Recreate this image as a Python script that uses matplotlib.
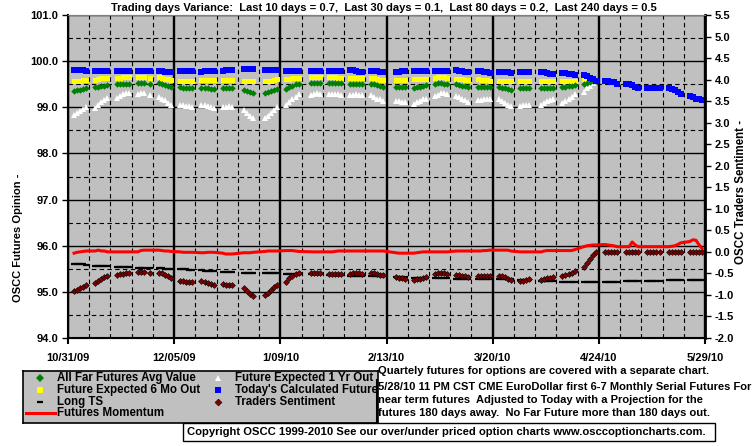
import pandas as pd
import matplotlib
matplotlib.use("Agg")
import matplotlib.pyplot as plt
import matplotlib.dates as mdates
from matplotlib.ticker import MultipleLocator, FixedLocator
from matplotlib.patches import Rectangle
from matplotlib.lines import Line2D

plt.rcParams['font.family'] = ['Liberation Sans', 'DejaVu Sans']
plt.rcParams['font.weight'] = 'bold'

W, H = 755, 446

# ====== Data ======
HOLIDAYS = ['2009-11-26', '2009-12-25', '2010-01-01', '2010-01-18', '2010-02-15', '2010-04-02']
trade_days = pd.bdate_range('2009-11-02', '2010-05-28', freq='C', holidays=HOLIDAYS)

tick_dates = ['2009-10-31', '2009-12-05', '2010-01-09', '2010-02-13', '2010-03-20', '2010-04-24', '2010-05-29']
tick_labels = ['10/31/09', '12/05/09', '1/09/10', '2/13/10', '3/20/10', '4/24/10', '5/29/10']

# weekly lists of trading-day values (left axis)
today_future = [
    [99.81, 99.81, 99.81, 99.81, 99.79], [99.79, 99.79, 99.79, 99.79, 99.79],
    [99.79, 99.79, 99.79, 99.79, 99.79], [99.79, 99.79, 99.79, 99.78],
    [99.78, 99.78, 99.77, 99.77, 99.77], [99.78, 99.78, 99.79, 99.78, 99.78],
    [99.77, 99.78, 99.79, 99.79, 99.79], [99.79, 99.80, 99.81, 99.81],
    [99.82, 99.82, 99.83, 99.83], [99.81, 99.81, 99.81, 99.81, 99.81],
    [99.79, 99.79, 99.79, 99.79, 99.79], [99.79, 99.79, 99.79, 99.79],
    [99.79, 99.79, 99.79, 99.79, 99.78], [99.80, 99.80, 99.79, 99.77, 99.77],
    [99.78, 99.78, 99.78, 99.77, 99.76], [99.76, 99.77, 99.78, 99.78],
    [99.78, 99.78, 99.78, 99.78, 99.78], [99.79, 99.79, 99.79, 99.79, 99.79],
    [99.80, 99.79, 99.78, 99.77, 99.77], [99.78, 99.78, 99.77, 99.76, 99.74],
    [99.76, 99.76, 99.76, 99.76, 99.74], [99.76, 99.76, 99.76, 99.76],
    [99.77, 99.77, 99.74, 99.73, 99.73], [99.74, 99.74, 99.73, 99.73, 99.70],
    [99.70, 99.67, 99.64, 99.61, 99.58], [99.58, 99.57, 99.55, 99.54, 99.51],
    [99.51, 99.50, 99.48, 99.45, 99.42], [99.41, 99.41, 99.41, 99.41, 99.41],
    [99.41, 99.40, 99.37, 99.34, 99.28], [99.25, 99.22, 99.19, 99.17, 99.15],
]
six_mo = [
    [99.58, 99.58, 99.58, 99.59, 99.59], [99.60, 99.61, 99.63, 99.63, 99.63],
    [99.64, 99.64, 99.65, 99.65, 99.65], [99.65, 99.65, 99.65, 99.63],
    [99.65, 99.64, 99.62, 99.61, 99.60], [99.58, 99.58, 99.58, 99.58, 99.58],
    [99.59, 99.59, 99.59, 99.59, 99.59], [99.59, 99.59, 99.59, 99.59],
    [99.58, 99.58, 99.58, 99.57], [99.56, 99.57, 99.58, 99.60, 99.61],
    [99.61, 99.62, 99.63, 99.63, 99.64], [99.65, 99.65, 99.65, 99.65],
    [99.65, 99.65, 99.65, 99.64, 99.63], [99.63, 99.63, 99.63, 99.63, 99.63],
    [99.64, 99.63, 99.61, 99.60, 99.60], [99.60, 99.60, 99.60, 99.60],
    [99.61, 99.61, 99.61, 99.62, 99.62], [99.64, 99.65, 99.65, 99.65, 99.64],
    [99.62, 99.62, 99.61, 99.60, 99.60], [99.61, 99.60, 99.60, 99.59, 99.57],
    [99.58, 99.58, 99.58, 99.58, 99.58], [99.58, 99.58, 99.58, 99.58],
    [99.58, 99.58, 99.58, 99.58, 99.58], [99.58, 99.58, 99.58, 99.58, 99.57],
    [99.62, 99.60, 99.58, 99.58, 99.57],
]
far_avg = [
    [99.35, 99.37, 99.38, 99.40, 99.41], [99.43, 99.45, 99.46, 99.47, 99.49],
    [99.50, 99.51, 99.51, 99.51, 99.50], [99.53, 99.53, 99.53, 99.51],
    [99.53, 99.51, 99.48, 99.46, 99.43], [99.43, 99.42, 99.42, 99.41, 99.41],
    [99.42, 99.41, 99.41, 99.40, 99.40], [99.41, 99.41, 99.41, 99.41],
    [99.37, 99.35, 99.33, 99.31], [99.30, 99.33, 99.35, 99.37, 99.40],
    [99.40, 99.44, 99.47, 99.50, 99.51], [99.53, 99.53, 99.53, 99.53],
    [99.52, 99.52, 99.52, 99.52, 99.52], [99.50, 99.50, 99.50, 99.50, 99.50],
    [99.50, 99.50, 99.48, 99.47, 99.45], [99.45, 99.45, 99.45, 99.45],
    [99.42, 99.44, 99.45, 99.47, 99.48], [99.51, 99.53, 99.53, 99.51, 99.50],
    [99.50, 99.48, 99.47, 99.46, 99.44], [99.45, 99.45, 99.44, 99.44, 99.44],
    [99.43, 99.41, 99.41, 99.40, 99.38], [99.41, 99.41, 99.41, 99.41],
    [99.41, 99.41, 99.41, 99.41, 99.41], [99.43, 99.44, 99.46, 99.47, 99.48],
    [99.51, 99.53, 99.54, 99.56, 99.57],
]
one_yr = [
    [98.83, 98.88, 98.93, 98.97, 99.00], [98.98, 99.05, 99.11, 99.16, 99.21],
    [99.21, 99.25, 99.28, 99.30, 99.30], [99.28, 99.30, 99.30, 99.27],
    [99.23, 99.19, 99.15, 99.10, 99.06], [99.05, 99.05, 99.03, 99.02, 99.01],
    [99.06, 99.04, 99.02, 99.00, 98.98], [99.01, 99.01, 99.02, 99.01],
    [98.94, 98.88, 98.81, 98.76], [98.76, 98.82, 98.88, 98.94, 99.00],
    [99.05, 99.12, 99.19, 99.23, 99.28], [99.27, 99.29, 99.30, 99.29],
    [99.28, 99.29, 99.29, 99.28, 99.27], [99.26, 99.27, 99.28, 99.27, 99.26],
    [99.27, 99.23, 99.19, 99.17, 99.14], [99.14, 99.13, 99.12, 99.11],
    [99.08, 99.11, 99.14, 99.17, 99.19], [99.24, 99.27, 99.30, 99.31, 99.28],
    [99.25, 99.22, 99.19, 99.16, 99.12], [99.15, 99.16, 99.18, 99.19, 99.19],
    [99.19, 99.14, 99.09, 99.05, 99.03], [99.02, 99.04, 99.06, 99.04],
    [99.06, 99.10, 99.13, 99.15, 99.18], [99.09, 99.14, 99.19, 99.23, 99.28],
    [99.34, 99.41, 99.47, 99.52, 99.56], [99.58, 99.57, 99.55, 99.54, 99.51],
    [99.51, 99.50, 99.48, 99.45, 99.42], [99.41, 99.41, 99.41, 99.41, 99.41],
    [99.41, 99.40, 99.37, 99.34, 99.28], [99.25, 99.22, 99.19, 99.17, 99.15],
]

# right axis series
long_ts = [
    [-0.28, -0.29, -0.29, -0.29, -0.30], [-0.32, -0.33, -0.33, -0.33, -0.33],
    [-0.35, -0.35, -0.35, -0.35, -0.35], [-0.37, -0.37, -0.37, -0.37],
    [-0.38, -0.38, -0.39, -0.39, -0.39], [-0.40, -0.40, -0.40, -0.41, -0.41],
    [-0.43, -0.44, -0.44, -0.45, -0.45], [-0.47, -0.47, -0.47, -0.47],
    [-0.48, -0.48, -0.48, -0.48], [-0.50, -0.50, -0.50, -0.50, -0.50],
    [-0.51, -0.51, -0.51, -0.51, -0.51], [-0.52, -0.52, -0.52, -0.52],
    [-0.54, -0.54, -0.54, -0.54, -0.54], [-0.55, -0.55, -0.55, -0.55, -0.55],
    [-0.57, -0.57, -0.57, -0.57, -0.57], [-0.58, -0.58, -0.58, -0.58],
    [-0.60, -0.60, -0.60, -0.60, -0.60], [-0.61, -0.61, -0.61, -0.61, -0.61],
    [-0.63, -0.63, -0.63, -0.63, -0.63], [-0.64, -0.64, -0.64, -0.64, -0.64],
    [-0.64, -0.64, -0.64, -0.64, -0.64], [-0.65, -0.65, -0.65, -0.65],
    [-0.67, -0.67, -0.67, -0.67, -0.67], [-0.69, -0.69, -0.69, -0.69, -0.69],
    [-0.71, -0.71, -0.71, -0.71, -0.71], [-0.70, -0.70, -0.70, -0.70, -0.70],
    [-0.68, -0.68, -0.68, -0.68, -0.68], [-0.67, -0.67, -0.67, -0.67, -0.67],
    [-0.66, -0.66, -0.66, -0.66, -0.66], [-0.65, -0.65, -0.65, -0.65, -0.65],
]
sentiment = [
    [-0.92, -0.89, -0.85, -0.81, -0.77], [-0.73, -0.68, -0.64, -0.59, -0.56],
    [-0.54, -0.52, -0.51, -0.50, -0.50], [-0.47, -0.47, -0.47, -0.48],
    [-0.48, -0.50, -0.53, -0.56, -0.61], [-0.67, -0.68, -0.69, -0.70, -0.71],
    [-0.67, -0.70, -0.73, -0.75, -0.77], [-0.75, -0.76, -0.77, -0.78],
    [-0.85, -0.91, -0.97, -1.03], [-1.01, -0.95, -0.89, -0.82, -0.76],
    [-0.69, -0.61, -0.55, -0.51, -0.48], [-0.49, -0.48, -0.49, -0.49],
    [-0.51, -0.51, -0.51, -0.51, -0.51], [-0.51, -0.50, -0.50, -0.50, -0.51],
    [-0.50, -0.50, -0.51, -0.53, -0.54], [-0.59, -0.60, -0.61, -0.62],
    [-0.65, -0.63, -0.62, -0.60, -0.59], [-0.51, -0.49, -0.48, -0.49, -0.51],
    [-0.53, -0.54, -0.55, -0.57, -0.59], [-0.57, -0.56, -0.56, -0.55, -0.55],
    [-0.56, -0.57, -0.59, -0.62, -0.65], [-0.67, -0.67, -0.65, -0.64],
    [-0.65, -0.63, -0.61, -0.60, -0.59], [-0.56, -0.54, -0.51, -0.48, -0.45],
    [-0.34, -0.25, -0.16, -0.07, 0.00], [0.00, 0.00, 0.00, 0.00, 0.00],
    [0.00, 0.00, 0.00, 0.00, 0.00], [0.00, 0.00, 0.00, 0.00, 0.00],
    [0.00, 0.00, 0.00, 0.00, 0.00], [0.00, 0.00, 0.00, 0.00, 0.00],
]
momentum = [
    [-0.03, -0.01, 0.00, 0.01, 0.02], [0.02, 0.04, 0.02, 0.02, 0.00],
    [0.00, 0.00, 0.00, 0.00, 0.00], [0.00, 0.03, 0.04, 0.04],
    [0.04, 0.03, 0.02, 0.02, 0.01], [0.00, -0.01, -0.01, -0.01, -0.01],
    [-0.02, -0.02, -0.01, -0.01, -0.01], [-0.03, -0.05, -0.05, -0.05],
    [-0.02, -0.02, -0.02, -0.01], [0.01, 0.02, 0.02, 0.02, 0.02],
    [0.03, 0.03, 0.03, 0.02, 0.01], [0.00, 0.00, 0.00, 0.00],
    [0.00, 0.00, 0.01, 0.02, 0.02], [0.02, 0.02, 0.02, 0.02, 0.02],
    [0.02, 0.02, 0.02, 0.02, 0.02], [-0.02, -0.03, -0.03, -0.03],
    [-0.03, -0.02, -0.01, 0.00, 0.00], [0.00, 0.00, 0.00, 0.00, 0.00],
    [0.02, 0.02, 0.02, 0.02, 0.02], [0.02, 0.02, 0.03, 0.03, 0.04],
    [0.04, 0.04, 0.04, 0.04, 0.02], [0.00, 0.00, 0.00, 0.00],
    [0.00, 0.02, 0.03, 0.03, 0.03], [0.03, 0.03, 0.03, 0.03, 0.05],
    [0.12, 0.14, 0.15, 0.16, 0.16], [0.17, 0.16, 0.15, 0.14, 0.12],
    [0.12, 0.12, 0.23, 0.16, 0.12], [0.12, 0.12, 0.12, 0.12, 0.12],
    [0.12, 0.13, 0.14, 0.17, 0.21], [0.24, 0.28, 0.27, 0.17, 0.08],
]


def flat(weeks):
    return [v for wk in weeks for v in wk]


blue = flat(today_future)
yellow = flat(six_mo)
green = flat(far_avg)
white = flat(one_yr)
ts = flat(long_ts)
sent = flat(sentiment)
mom = flat(momentum)
days_short = trade_days[:len(yellow)]


def px(x, y):
    return x / W, 1 - y / H


# ====== Figure ======
fig = plt.figure(figsize=(W / 100, H / 100), dpi=100, facecolor='white')
ax = fig.add_axes([68 / W, 1 - 338 / H, (705 - 68) / W, (338 - 15) / H])
ax.set_facecolor('#c0c0c0')
ax2 = ax.twinx()

ax.set_xlim(pd.Timestamp(tick_dates[0]), pd.Timestamp(tick_dates[-1]))
ax.set_ylim(94, 101)
ax2.set_ylim(-2.0, 5.5)

ax.xaxis.set_major_locator(FixedLocator(mdates.date2num(pd.to_datetime(tick_dates))))
ax.set_xticklabels(tick_labels)
ax.xaxis.set_minor_locator(mdates.WeekdayLocator(byweekday=mdates.SA))
ax.yaxis.set_major_locator(MultipleLocator(1.0))
ax.yaxis.set_minor_locator(MultipleLocator(0.5))
ax.yaxis.set_major_formatter(matplotlib.ticker.FormatStrFormatter('%.1f'))
ax2.yaxis.set_major_locator(MultipleLocator(0.5))
ax2.yaxis.set_major_formatter(matplotlib.ticker.FormatStrFormatter('%.1f'))

ax.grid(which='major', axis='x', color='black', lw=1.7)
ax.grid(which='major', axis='y', color='black', lw=1.0)
ax.grid(which='minor', color='black', lw=0.8, ls=(0, (4, 3)))

ax.tick_params(which='minor', length=0)
ax.tick_params(axis='y', which='major', length=4, width=1, pad=3, labelsize=8)
ax.tick_params(axis='x', which='major', length=4, width=1.5, pad=7, labelsize=8)
ax2.tick_params(axis='y', length=4, width=1, pad=3, labelsize=8)

for sp in ['left', 'bottom']:
    ax.spines[sp].set_linewidth(1.5)
ax.spines['top'].set_color('#808080')
ax2.spines['top'].set_color('#808080')
ax2.spines['right'].set_linewidth(2)

# ====== Series ======
ax.plot(trade_days, white, ls='none', marker='^', ms=4.6, color='white', mew=0)
ax.plot(days_short, yellow, ls='none', marker='s', ms=3.6, color='#ffff00', mew=0)
ax.plot(days_short, green, ls='none', marker='D', ms=3.3, color='#008000', mew=0)
ax.plot(trade_days, blue, ls='none', marker='s', ms=4.4, color='#0000ff', mew=0)

ax2.plot(trade_days, ts, ls='none', marker='_', ms=4.5, mew=1.6, color='black')
ax2.plot(trade_days, mom, color='#ff0000', lw=2.2)
ax2.plot(trade_days, sent, ls='none', marker='D', ms=3.0, color='#800000',
         mec='black', mew=0.4)

# ====== Texts ======
fig.text(*px(384, 8), 'Trading days Variance:  Last 10 days = 0.7,  Last 30 days = 0.1,  '
         'Last 80 days = 0.2,  Last 240 days = 0.5', ha='center', va='center', fontsize=8)
fig.text(*px(18, 238), 'OSCC Futures Opinion -', rotation=90, ha='center', va='center', fontsize=8)
fig.text(*px(741, 192), 'OSCC Traders Sentiment -', rotation=90, ha='center', va='center', fontsize=8.3)

notes = ['Quartely futures for options are covered with a separate chart.',
         '5/28/10 11 PM CST CME EuroDollar first 6-7 Monthly Serial Futures For',
         'near term futures  Adjusted to Today with a Projection for the',
         'futures 180 days away.  No Far Future more than 180 days out.']
for y, line in zip([371, 386.5, 400, 413], notes):
    fig.text(*px(378, y), line, ha='left', va='center', fontsize=8)
fig.add_artist(Line2D([377 / W, 377 / W], [1 - 380 / H, 1 - 422 / H], color='black', lw=1.5))

# copyright box
fig.add_artist(Rectangle(px(183, 441), 532 / W, 18 / H, facecolor='white',
                         edgecolor='black', lw=1))
fig.text(*px(187, 432), 'Copyright OSCC 1999-2010 See our over/under priced option charts '
         'www.osccoptioncharts.com.', ha='left', va='center', fontsize=8.15)

# ====== Legend box ======
lax = fig.add_axes([23 / W, 1 - 423 / H, (378 - 23) / W, (423 - 371) / H])
lax.set_facecolor('#c0c0c0')
lax.set_xlim(23, 378)
lax.set_ylim(423, 371)
lax.set_xticks([])
lax.set_yticks([])
for sp in lax.spines.values():
    sp.set_linewidth(1.2)

rows = [378, 390, 402, 413]
lax.plot([40], [rows[0]], marker='D', ms=4, color='#008000', mew=0)
lax.plot([40], [rows[1]], marker='s', ms=4.2, color='#ffff00', mew=0)
lax.plot([40], [rows[2]], marker='_', ms=5, mew=1.6, color='black')
lax.plot([26, 55], [rows[3], rows[3]], color='#ff0000', lw=2.2)
lax.plot([218], [rows[0]], marker='^', ms=5, color='white', mew=0)
lax.plot([218], [rows[1]], marker='s', ms=4.2, color='#0000ff', mew=0)
lax.plot([218], [rows[2]], marker='D', ms=3.5, color='#800000', mec='black', mew=0.4)

leg_left = ['All Far Futures Avg Value', 'Future Expected 6 Mo Out', 'Long TS', 'Futures Momentum']
leg_right = ['Future Expected 1 Yr Out', "Today's Calculated Future", 'Traders Sentiment']
for y, t in zip(rows, leg_left):
    lax.text(57, y, t, ha='left', va='center', fontsize=8.3)
for y, t in zip(rows, leg_right):
    lax.text(235, y, t, ha='left', va='center', fontsize=8.3, clip_on=False)

fig.savefig('out.png', dpi=100, facecolor='white')
